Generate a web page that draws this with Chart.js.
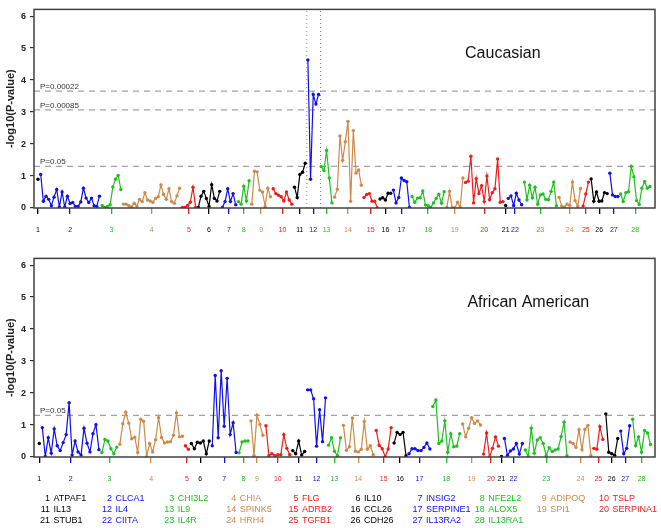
<!DOCTYPE html>
<html><head><meta charset="utf-8">
<script src="https://cdn.jsdelivr.net/npm/chart.js@4"></script>
<style>
body{margin:0;background:#fff;width:661px;height:528px;overflow:hidden;position:relative;font-family:"Liberation Sans",Arial,sans-serif}
canvas{position:absolute;left:0}
#c1{top:0}
#c2{top:249px}
.lg{position:absolute;font-size:9px;line-height:11px;white-space:nowrap}
.num{text-align:right;width:28px}
</style></head>
<body>
<canvas id="c1" width="661" height="245"></canvas>
<canvas id="c2" width="661" height="245"></canvas>
<div id="legend"></div>
<script>
const geneNames = ['ATPAF1','CLCA1','CHI3L2','CHIA','FLG','IL10','INSIG2','NFE2L2','ADIPOQ','TSLP',
  'IL13','IL4','IL9','SPINK5','ADRB2','CCL26','SERPINE1','ALOX5','SPI1','SERPINA1',
  'STUB1','CIITA','IL4R','HRH4','TGFB1','CDH26','IL13RA2','IL13RA1'];
const palette = ['#000000','#1010ee','#20c020','#cd8a4a','#ee1c1c'];
const panelTitles = ['Caucasian','African American'];
const yTickValues = [0,1,2,3,4,5,6];
const pThresholdsCaucasian = ['0.00022','0.00085','0.05'];
const pThresholdsAfricanAmerican = ['0.05'];
const highlightGeneCaucasian = 12;

// -log10(P) per SNP, grouped by gene (Caucasian)
const caucasianValues = [
  [0.9],
  [1.05,0.21,0.37,0.27,0.07,0.34,0.58,0.03,0.5,0.03,0.37,0.14,0.17,0.05,0.05,0.19,0.62,0.31,0.17,0.31,0.07,0.05,0.37],
  [0.08,0.02,0.05,0.1,0.66,0.9,1.02,0.58],
  [0.12,0.12,0.07,0.03,0.15,0.06,0.27,0.2,0.48,0.25,0.22,0.18,0.3,0.35,0.72,0.42,0.27,0.6,0.2,0.15,0.38,0.62],
  [0.02,0.02,0.08,0.18,0.65,0.02],
  [0.02,0.37,0.52,0.3,0.05,0.73,0.3,0.22,0.52],
  [0.02,0.2,0.6,0.2,0.45,0.1],
  [0.2,0.12,0.68,0.22,0.85],
  [0.12,1.15,1.13,0.56,0.5,0.05,0.62,0.35],
  [0.6,0.45,0.4,0.35,0.22,0.5,0.25,0.12],
  [0.65,0.33,1.05,1.12,1.4],
  [4.63,0.9,3.55,3.25,3.55],
  [1.3,1.17,1.8,0.94,0.16],
  [0.34,0.59,2.25,1.49,2.07,2.71,0.21,2.42,1.09,1.19,0.71],
  [0.33,0.42,0.45,0.21,0.21,0.0],
  [0.28,0.32,0.25,0.46,0.46],
  [0.56,0.16,0.33,0.94,0.86,0.82,0.02],
  [0.36,0.18,0.31,0.32,0.53,0.09,0.07,0.02,0.16,0.3,0.43,0.15,0.51],
  [0.02,0.52,0.01,0.01,0.18,0.02,0.94],
  [0.8,0.84,1.62,0.16,0.92,0.45,0.7,0.2,1.0,0.26,0.48,0.6,1.53,0.18,0.2],
  [0.08],
  [0.3,0.38,0.08,0.46,0.25,0.1],
  [0.81,0.26,0.71,0.32,0.65,0.12,0.41,0.44,0.27,0.26,0.52,0.81,0.07],
  [0.33,0.06,0.03,0.12,0.08,0.81,0.23,0.05,0.61],
  [0.06,0.44,0.81],
  [0.91,0.21,0.5,0.21,0.22,0.48,0.45],
  [1.09,0.41,0.36,0.36],
  [0.44,0.2,0.48,0.51,1.3,0.98,0.23,0.11,0.62,0.83,0.62,0.67]
];

// -log10(P) per SNP, grouped by gene (African American)
const africanAmericanValues = [
  [0.42],
  [0.92,0.02,0.6,0.12,0.88,0.35,0.2,0.45,0.7,1.7,0.06,0.5,0.16,0.06,0.9,0.43,0.16,0.73,1.01,0.23],
  [0.14,0.55,0.5,0.26,0.1,0.31],
  [0.4,1.04,1.4,1.06,0.57,0.62,0.14,1.18,1.12,0.01,0.42,0.16,0.54,1.23,0.61,0.44,0.47,0.48,0.68,1.38,0.63,0.65],
  [0.35,0.24],
  [0.42,0.26,0.46,0.44,0.5,0.1,0.5],
  [0.35,2.55,0.6,2.7,0.96,2.46,0.7,1.07,0.14],
  [0.13,0.47,0.5,0.5],
  [1.13,0.05,1.31,1.02,0.68],
  [0.98,0.04,0.1,0.04,0.07,0.07,0.7,0.27,0.07],
  [0.2,0.1,0.5,0.06,0.17],
  [2.1,2.1,1.82,0.34,1.48,0.48,1.85],
  [0.37,0.6,0.18,0.04,0.6],
  [0.99,0.21,0.32,1.22,0.18,0.16,0.24,1.11,0.24,0.35,0.07],
  [0.83,0.36,0.26,0.01,0.25,0.92],
  [0.44,0.77,0.7,0.77,0.04],
  [0.1,0.26,0.26,0.2,0.2,0.3,0.44,0.25],
  [1.58,1.78,0.42,0.5,1.13,0.15,0.73,0.32,0.34,0.73],
  [1.03,0.63,0.9,1.23,1.05,1.13,1.0],
  [0.09,0.75,0.0,0.27,0.63,0.34],
  [0.02],
  [0.58,0.05,0.19,0.25,0.42,0.09,0.42],
  [0.22,0.02,0.9,0.12,0.53,0.6,0.42,0.04,0.29,0.17,0.22,0.25,0.64,1.09,0.04],
  [0.47,0.42,0.3,0.85,0.23,0.86,0.99,0.05],
  [0.27,0.24,0.95,0.55],
  [1.35,0.15,0.1,0.05,0.58],
  [0.81,0.1,0.27,0.98],
  [1.18,0.35,0.63,0.15,0.83,0.75,0.39]
];

const FONT = '"Liberation Sans", Arial, sans-serif';
const colorOf = g => palette[g % palette.length];

function buildPanel(canvasId, values, thresholds, title, xPad, highlightGene) {
  const datasets = [];
  const centers = [];
  const starts = [];
  let idx = 0;
  values.forEach((arr, g) => {
    const col = colorOf(g);
    starts.push(idx);
    centers.push(idx + (arr.length - 1) / 2);
    datasets.push({
      data: arr.map((v, k) => ({x: idx + k, y: v})),
      borderColor: col, backgroundColor: col, pointBackgroundColor: col,
      pointRadius: 1.7, pointBorderWidth: 0, borderWidth: 1.2,
      showLine: true, order: 1
    });
    idx += arr.length;
  });
  const n = idx;
  const xMin = -xPad[0], xMax = n - 1 + xPad[1];
  thresholds.forEach(p => {
    const y = -Math.log10(parseFloat(p));
    datasets.push({data: [{x: xMin, y}, {x: xMax, y}], borderColor: '#a2a2a2',
      borderDash: [6, 5], borderWidth: 1.3, pointRadius: 0, showLine: true, order: 3});
  });
  if (highlightGene) {
    const g = highlightGene - 1;
    const a = starts[g] - 0.4, b = starts[g] + values[g].length - 0.3;
    [a, b].forEach(xv => datasets.push({data: [{x: xv, y: 0}, {x: xv, y: 6.21}],
      borderColor: '#808080', borderDash: [1, 3], borderWidth: 1, pointRadius: 0, showLine: true, order: 2}));
  }
  const annot = {
    id: 'annot',
    afterDraw(chart) {
      const {ctx, chartArea: ca, scales} = chart;
      ctx.save();
      ctx.fillStyle = '#333';
      ctx.font = '8px ' + FONT;
      ctx.textAlign = 'left';
      ctx.textBaseline = 'alphabetic';
      thresholds.forEach(p => {
        const py = scales.y.getPixelForValue(-Math.log10(parseFloat(p)));
        ctx.fillText('P=' + p, ca.left + 6, py - 2);
      });
      ctx.fillStyle = '#111';
      ctx.font = '16px ' + FONT;
      ctx.textAlign = 'center';
      ctx.textBaseline = 'middle';
      const tx = title === panelTitles[0] ? 0.755 : 0.796;
      ctx.fillText(title, ca.left + (ca.right - ca.left) * tx, ca.top + 44);
      ctx.strokeStyle = '#404040';
      ctx.lineWidth = 1.5;
      ctx.strokeRect(ca.left, ca.top, ca.right - ca.left, ca.bottom - ca.top);
      ctx.restore();
    }
  };
  return new Chart(document.getElementById(canvasId), {
    type: 'scatter',
    data: {datasets},
    plugins: [annot],
    options: {
      responsive: false, animation: false, devicePixelRatio: 1, events: [],
      layout: {padding: {top: 3, right: 6, left: 0, bottom: 0}},
      plugins: {legend: {display: false}, tooltip: {enabled: false}},
      scales: {
        x: {
          type: 'linear', min: xMin, max: xMax,
          border: {display: false},
          grid: {drawOnChartArea: false, drawTicks: true, tickLength: 6, lineWidth: 1.3,
                 color: c => colorOf(c.index)},
          ticks: {autoSkip: false, maxRotation: 0, minRotation: 0, padding: 12,
                  font: {size: 7, family: FONT}, color: c => colorOf(c.index),
                  callback: (v, i) => String(i + 1)},
          afterBuildTicks: s => { s.ticks = centers.map(v => ({value: v})); },
          afterFit: s => { s.height = 37; }
        },
        y: {
          min: 0, max: 6.21,
          border: {display: false},
          grid: {drawOnChartArea: false, drawTicks: true, tickLength: 4, color: '#333', lineWidth: 1.2},
          ticks: {padding: 4, font: {size: 9, weight: 'bold', family: FONT}, color: '#222'},
          afterBuildTicks: s => { s.ticks = yTickValues.map(v => ({value: v})); },
          afterFit: s => { s.width = 34; },
          title: {display: true, text: '-log10(P-value)', color: '#222',
                  font: {size: 11, weight: 'bold', family: FONT}, padding: {top: 4, bottom: 0}}
        }
      }
    }
  });
}

buildPanel('c1', caucasianValues, pThresholdsCaucasian, panelTitles[0], [1.5, 1.9], highlightGeneCaucasian);
buildPanel('c2', africanAmericanValues, pThresholdsAfricanAmerican, panelTitles[1], [1.78, 1.5], 0);

// gene legend
const lg = document.getElementById('legend');
const rowY = [492.5, 503.5, 514.5];
geneNames.forEach((name, i) => {
  const row = Math.floor(i / 10), col = i % 10;
  const nameX = 53.5 + 62.1 * col;
  const color = colorOf(i);
  const num = document.createElement('div');
  num.className = 'lg num';
  num.style.left = (nameX - 31.5) + 'px';
  num.style.top = rowY[row] + 'px';
  num.style.color = color;
  num.textContent = String(i + 1);
  const nm = document.createElement('div');
  nm.className = 'lg';
  nm.style.left = nameX + 'px';
  nm.style.top = rowY[row] + 'px';
  nm.style.color = color;
  nm.textContent = name;
  lg.appendChild(num); lg.appendChild(nm);
});
</script>
</body></html>
